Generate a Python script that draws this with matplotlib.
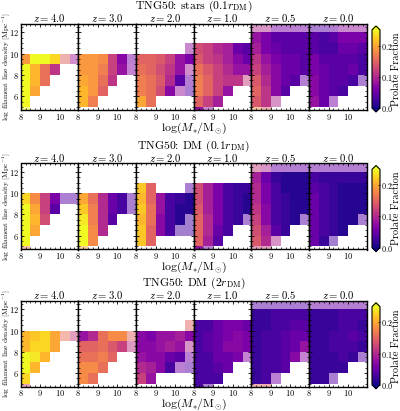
import numpy as np
import matplotlib
matplotlib.use('Agg')
import matplotlib.pyplot as plt
from matplotlib.ticker import MultipleLocator

plt.rcParams['font.family'] = 'serif'
plt.rcParams['font.serif'] = ['cmr10']
plt.rcParams['mathtext.fontset'] = 'cm'
plt.rcParams['axes.unicode_minus'] = False
plt.rcParams['axes.formatter.use_mathtext'] = True

redshifts = [4.0, 3.0, 2.0, 1.0, 0.5, 0.0]
mass_edges = np.arange(8.0, 11.01, 0.5)      # log(M*/Msun) bins
density_edges = np.arange(4.0, 13.01, 1.0)   # log filament line density bins
row_titles = [r'TNG50: stars (0.1$r_{\rm DM}$)',
              r'TNG50: DM (0.1$r_{\rm DM}$)',
              r'TNG50: DM (2$r_{\rm DM}$)']

# prolate fraction per cell, rows from top (12-13) to bottom (4-5)
# '.' = no galaxies, '*' = low number of galaxies (drawn faded)
stars_01 = [
    ['. . . . . .', '. . . . . .', '. . . . . .',
     '0.19 0.25 0.25 0.23 0.15* 0.09*', '0.25 0.21 0.16 0.11 . .',
     '0.25 0.21 0.16 . . .', '0.25 0.20 . . . .', '0.25 . . . . .', '0.25* . . . . .'],
    ['. . . . . .', '. . . . . .', '. . . . . .',
     '0.19 0.19 0.18 0.12 0.07 0.06*', '0.19 0.19 0.17 0.12 0.08 0.07*',
     '0.20 0.19 0.16 0.11 . .', '0.21 0.19 0.15 . . .', '0.21 0.17 . . . .', '. . . . . .'],
    ['. . . . . .', '. . . . . .', '. . . . . 0.08*',
     '0.15 0.15 0.14 0.12 0.08 0.06', '0.16 0.15 0.13 0.11 0.08 0.09*',
     '0.17 0.16 0.14 0.10 0.04 0.05*', '0.17 0.16 0.13 0.07 0.08* 0.04*',
     '0.20 0.16 . . . .', '. . . . . .'],
    ['. . . . . .', '. . . . . .', '0.13 0.12 0.10 0.09 0.05 0.04',
     '0.14 0.12 0.11 0.09 0.07 0.05', '0.16 0.14 0.12 0.10 0.08 0.08',
     '0.17 0.15 0.12 0.11 0.11 0.12*', '0.17 0.15 0.12 0.08 . .',
     '0.15 0.12 0.09 . . .', '0.08 0.08* . . . .'],
    ['0.10* 0.10* 0.06* 0.06* 0.06* 0.06*', '0.08 0.06 0.04 0.04 0.04 0.04',
     '0.09 0.06 0.05 0.04 0.04 0.04', '0.11 0.08 0.06 0.05 0.05 0.04',
     '0.12 0.09 0.07 0.05 0.05 0.04', '0.14 0.10 0.07 0.05 0.04 0.05*',
     '0.15 0.11 0.07 0.04 . .', '0.14 0.11 0.10* . . .', '0.18* 0.15* . . . .'],
    ['0.04* 0.04* 0.05* 0.08* 0.08* 0.08*', '0.04 0.03 0.04 0.06 0.06 0.06',
     '0.04 0.03 0.03 0.05 0.05 0.04', '0.06 0.04 0.04 0.04 0.04 0.03',
     '0.06 0.05 0.04 0.04 0.05 0.03', '0.07 0.05 0.04 0.04 0.03 0.04*',
     '0.07 0.05 0.04 0.03 . .', '0.08 0.05 0.06* . . .', '. . . . . .'],
]

dm_01 = [
    ['. . . . . .', '. . . . . .', '. . . . . .',
     '0.23 0.18 0.12 0.06 0.04* 0.04*', '0.25 0.20 0.12 0.04 . .',
     '0.25 0.21 0.13 . . .', '0.25 0.20 . . . .', '0.25 . . . . .', '0.17* . . . . .'],
    ['. . . . . .', '. . . . . .', '. . . . . .',
     '0.20 0.16 0.10 0.05 0.03 0.04*', '0.22 0.17 0.10 0.05 0.03 0.04*',
     '0.24 0.17 0.10 0.04 . .', '0.25 0.18 0.10 . . .', '0.25 0.18 . . . .', '0.20* . . . . .'],
    ['. . . . . .', '. . . . . .', '0.22 0.15 . . . 0.04*',
     '0.21 0.15 0.08 0.03 0.02 0.01', '0.22 0.16 0.08 0.03 0.01 0.01',
     '0.21 0.16 0.07 0.03 0.01 0.03*', '0.22 0.15 0.07 0.03 0.03* 0.03*',
     '0.22 0.15 . . . .', '. . . . . .'],
    ['. . . . . .', '. . . . . .', '0.13 0.09 0.06 0.03 0.02 0.02',
     '0.13 0.09 0.06 0.03 0.02 0.01', '0.14 0.09 0.06 0.03 0.02 0.01',
     '0.15 0.10 0.06 0.03 0.02 0.04*', '0.15 0.10 0.05 0.03 . .',
     '0.15 0.09 0.04 . . .', '0.08 0.06* . . . .'],
    ['0.12* 0.10* 0.05* 0.05* 0.05* 0.05*', '0.09 0.05 0.02 0.01 0.01 0.01',
     '0.10 0.06 0.03 0.01 0.01 0.01', '0.10 0.06 0.03 0.02 0.01 0.01',
     '0.11 0.07 0.03 0.02 0.01 0.01', '0.12 0.07 0.03 0.02 0.01 0.04*',
     '0.13 0.09 0.04 0.02 . .', '0.14 0.10 0.10* . . .', '0.12* 0.12* . . . .'],
    ['0.05* 0.05* 0.05* 0.05* 0.05* 0.05*', '0.03 0.02 0.02 0.02 0.02 0.02',
     '0.04 0.03 0.02 0.01 0.01 0.01', '0.05 0.03 0.02 0.01 0.01 0.01',
     '0.05 0.03 0.02 0.01 0.01 0.01', '0.05 0.03 0.02 0.01 0.01 0.04*',
     '0.05 0.03 0.02 0.01 . .', '0.05 0.02 0.03* . . .', '. . . . . .'],
]

dm_2 = [
    ['. . . . . .', '. . . . . .', '. . . . . .',
     '0.21 0.22 0.23 0.20 0.16* 0.12*', '0.21 0.23 0.23 0.20 . .',
     '0.25 0.24 0.21 . . .', '0.25 0.21 . . . .', '0.23 . . . . .', '0.13* . . . . .'],
    ['. . . . . .', '. . . . . .', '. . . . . .',
     '0.08 0.10 0.16 0.18 0.18 0.15*', '0.15 0.15 0.16 0.14 0.12 0.11*',
     '0.16 0.16 0.17 0.15 . .', '0.18 0.18 0.16 . . .', '0.18 0.16 . . . .', '. . . . . .'],
    ['. . . . . .', '. . . . . .', '. . . . . 0.15*',
     '0.07 0.06 0.08 0.08 0.09 0.07', '0.07 0.07 0.08 0.09 0.08 0.10*',
     '0.08 0.07 0.07 0.05 0.04 0.06*', '0.10 0.09 0.07 0.03 0.06* 0.04*',
     '0.12 0.08 . . . .', '. . . . . .'],
    ['. . . . . .', '. . . . . .', '0.03 0.03 0.05 0.06 0.06 0.05',
     '0.03 0.04 0.05 0.06 0.07 0.06', '0.03 0.04 0.05 0.07 0.07 0.06',
     '0.03 0.03 0.05 0.05 0.06 0.07*', '0.03 0.03 0.04 0.05 . .',
     '0.03 0.03 0.03 . . .', '0.03 0.04* . . . .'],
    ['0.04* 0.04* 0.04* 0.04* 0.04* 0.04*', '0.02 0.02 0.03 0.03 0.03 0.03',
     '0.02 0.02 0.03 0.03 0.04 0.04', '0.02 0.03 0.03 0.04 0.05 0.05',
     '0.02 0.03 0.03 0.04 0.05 0.08', '0.02 0.03 0.03 0.04 0.07 0.07*',
     '0.02 0.03 0.03 0.04 . .', '0.02 0.03 0.06* . . .', '0.15* 0.15* . . . .'],
    ['0.05* 0.05* 0.05* 0.05* 0.05* 0.05*', '0.02 0.02 0.02 0.03 0.03 0.03',
     '0.02 0.02 0.02 0.03 0.03 0.02', '0.02 0.02 0.03 0.03 0.04 0.03',
     '0.02 0.02 0.03 0.03 0.03 0.02', '0.02 0.02 0.02 0.03 0.02 0.04*',
     '0.02 0.02 0.02 0.02 . .', '0.02 0.02 0.04* . . .', '. . . . . .'],
]


def parse(rows):
    vals = np.full((len(rows), 6), np.nan)
    low = np.zeros((len(rows), 6), dtype=bool)
    for i, r in enumerate(rows[::-1]):
        for j, tok in enumerate(r.split()):
            if tok == '.':
                continue
            low[i, j] = tok.endswith('*')
            vals[i, j] = float(tok.rstrip('*'))
    return vals, low


W, H = 400, 411
fig = plt.figure(figsize=(W / 100, H / 100), dpi=100)

def fx(px):
    return px / W

def fy(py):
    return 1 - py / H

left, right = 20.7, 366.7
pw = (right - left) / 6
ph = 86
row_tops = [24, 163.5, 300.8]
cmap = plt.get_cmap('plasma')

for r, (data, title) in enumerate(zip([stars_01, dm_01, dm_2], row_titles)):
    top = row_tops[r]
    for k, z in enumerate(redshifts):
        ax = fig.add_axes([fx(left + k * pw), fy(top + ph), fx(pw), ph / H])
        vals, low = parse(data[k])
        im = ax.pcolormesh(mass_edges, density_edges, np.where(low, np.nan, vals),
                           cmap=cmap, vmin=0, vmax=0.25)
        ax.pcolormesh(mass_edges, density_edges, np.where(low, vals, np.nan),
                      cmap=cmap, vmin=0, vmax=0.25, alpha=0.5)
        ax.set_xlim(8, 10.95)
        ax.set_ylim(4.7, 12.8)
        ax.xaxis.set_major_locator(MultipleLocator(1))
        ax.xaxis.set_minor_locator(MultipleLocator(0.25))
        ax.yaxis.set_major_locator(MultipleLocator(2))
        ax.yaxis.set_minor_locator(MultipleLocator(0.5))
        ax.tick_params(which='both', direction='in', top=True, right=True,
                       labelsize=6.0, pad=1.2, labelleft=(k == 0))
        ax.tick_params(which='major', length=2.5, width=0.6)
        ax.tick_params(which='minor', length=1.3, width=0.5)
        for s in ax.spines.values():
            s.set_linewidth(1.0)
        ax.set_title(r'$z = %.1f$' % z, fontsize=7.7, pad=1.2)

    fig.text(fx((left + right) / 2), fy(top - 17.5), title, ha='center', va='center', fontsize=8.4)
    fig.text(fx((left + right) / 2), fy(top + ph + 18), r'$\log(M_{*}/{\rm M}_{\odot})$',
             ha='center', va='center', fontsize=8.5)
    fig.text(fx(6.2), fy(top + ph / 2), r'log filament line density [Mpc$^{-1}$]',
             rotation=90, ha='center', va='center', fontsize=5.4)

    cax = fig.add_axes([fx(372), fy(top + 2 + ph), fx(8), ph / H])
    cb = fig.colorbar(im, cax=cax, extend='both', ticks=[0.0, 0.1, 0.2])
    cb.ax.tick_params(labelsize=5.8, pad=0.8, length=1.5, width=0.5, direction='in')
    fig.text(fx(395.8), fy(top + 2 + ph / 2), 'Prolate Fraction', rotation=90,
             ha='center', va='center', fontsize=7.3)

fig.savefig('out.png', dpi=100)
